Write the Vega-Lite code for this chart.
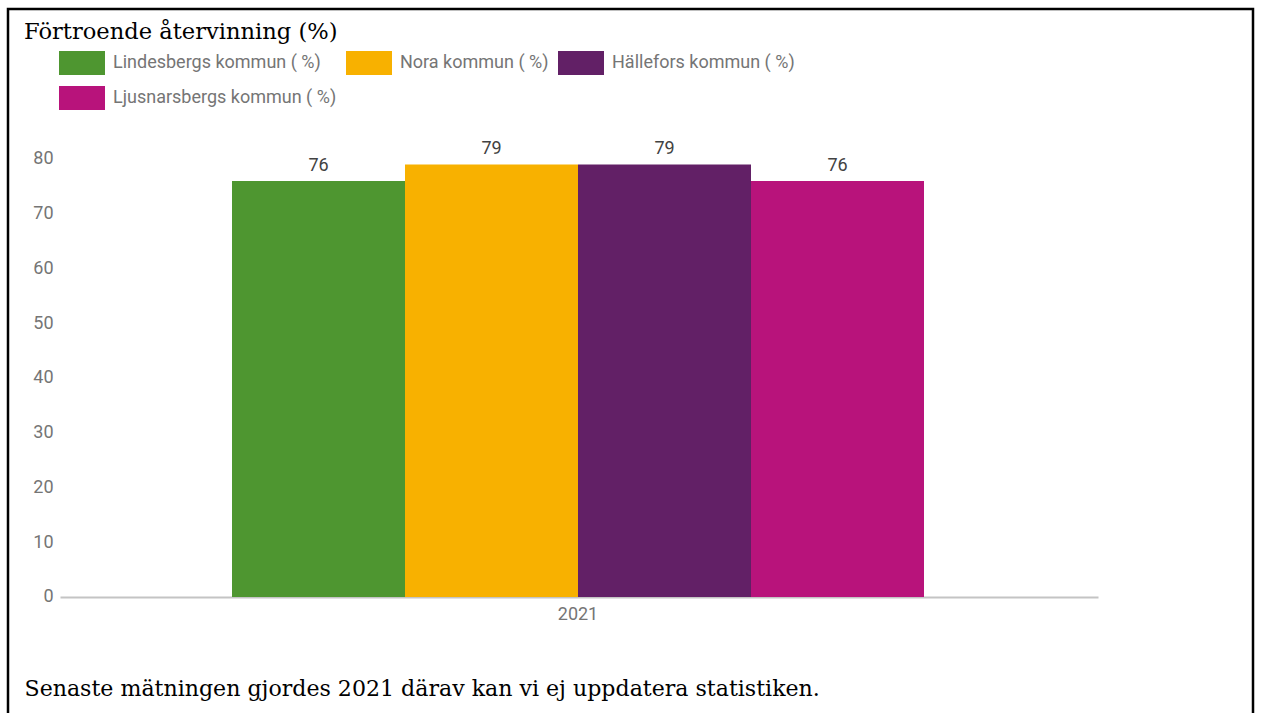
{
  "$schema": "https://vega.github.io/schema/vega-lite/v6.json",
  "autosize": {"type": "none"},
  "padding": {"left": 8, "top": 9, "right": 32, "bottom": -2},
  "width": 1245,
  "height": 706,
  "background": "white",
  "config": {
    "view": {"stroke": "#000000", "strokeWidth": 2.5},
    "font": "Roboto"
  },
  "title": {
    "text": "Förtroende återvinning (%)",
    "anchor": "start",
    "frame": "group",
    "font": "DejaVu Serif",
    "fontSize": 22.6,
    "fontWeight": "normal",
    "color": "#000000",
    "baseline": "alphabetic",
    "offset": -53,
    "dx": 16
  },
  "data": {
    "values": [
      {"year": "2021", "kommun": "Lindesbergs kommun ( %)", "value": 76},
      {"year": "2021", "kommun": "Nora kommun ( %)", "value": 79},
      {"year": "2021", "kommun": "Hällefors kommun ( %)", "value": 79},
      {"year": "2021", "kommun": "Ljusnarsbergs kommun ( %)", "value": 76}
    ]
  },
  "encoding": {
    "x": {
      "field": "year",
      "type": "nominal",
      "scale": {"paddingInner": 0, "paddingOuter": 0.39957, "align": 0.40506},
      "axis": {
        "orient": "bottom",
        "offset": -118,
        "domain": false,
        "ticks": false,
        "grid": false,
        "labelAngle": 0,
        "labelFont": "Roboto",
        "labelFontSize": 18,
        "labelColor": "#757575",
        "labelPadding": 8,
        "title": "Senaste mätningen gjordes 2021 därav kan vi ej uppdatera statistiken.",
        "titleFont": "DejaVu Serif",
        "titleFontSize": 22.1,
        "titleFontWeight": "normal",
        "titleColor": "#000000",
        "titleAnchor": "start",
        "titleAlign": "left",
        "titleBaseline": "alphabetic",
        "titleX": 16,
        "titleY": 98
      }
    },
    "xOffset": {
      "field": "kommun",
      "type": "nominal",
      "sort": ["Lindesbergs kommun ( %)", "Nora kommun ( %)", "Hällefors kommun ( %)", "Ljusnarsbergs kommun ( %)"],
      "scale": {"paddingInner": 0, "paddingOuter": 0}
    },
    "y": {
      "field": "value",
      "type": "quantitative",
      "scale": {"domain": [-21.553, 107.397], "nice": false, "zero": false},
      "axis": {
        "title": null,
        "values": [0, 10, 20, 30, 40, 50, 60, 70, 80],
        "offset": -1090,
        "domain": false,
        "grid": false,
        "tickSize": 1038,
        "tickColor": "#c4c4c4",
        "tickWidth": 2,
        "tickOpacity": {"condition": {"test": "datum.value === 0", "value": 1}, "value": 0},
        "labelFont": "Roboto",
        "labelFontSize": 18,
        "labelColor": "#757575",
        "labelPadding": 7
      }
    }
  },
  "layer": [
    {
      "mark": {"type": "bar"},
      "encoding": {
        "y2": {"datum": 0},
        "color": {
          "field": "kommun",
          "type": "nominal",
          "sort": ["Lindesbergs kommun ( %)", "Nora kommun ( %)", "Hällefors kommun ( %)", "Ljusnarsbergs kommun ( %)"],
          "scale": {
            "domain": ["Lindesbergs kommun ( %)", "Nora kommun ( %)", "Hällefors kommun ( %)", "Ljusnarsbergs kommun ( %)"],
            "range": ["#4e9630", "#f8b100", "#622066", "#b8137b"]
          },
          "legend": {
            "orient": "none",
            "legendX": 51,
            "legendY": 31,
            "direction": "horizontal",
            "columns": 3,
            "title": null,
            "symbolType": "M-1,-0.52L1,-0.52L1,0.52L-1,0.52Z",
            "symbolSize": 2116,
            "symbolStrokeWidth": 0,
            "symbolOpacity": 1,
            "labelFont": "Roboto",
            "labelFontSize": 18,
            "labelColor": "#757575",
            "labelOffset": 8,
            "labelLimit": 400,
            "columnPadding": 9,
            "rowPadding": -4,
            "padding": 0
          }
        }
      }
    },
    {
      "mark": {"type": "text", "baseline": "alphabetic", "dy": -10, "fontSize": 18, "font": "Roboto", "color": "#424242"},
      "encoding": {"text": {"field": "value", "type": "quantitative"}}
    }
  ]
}
